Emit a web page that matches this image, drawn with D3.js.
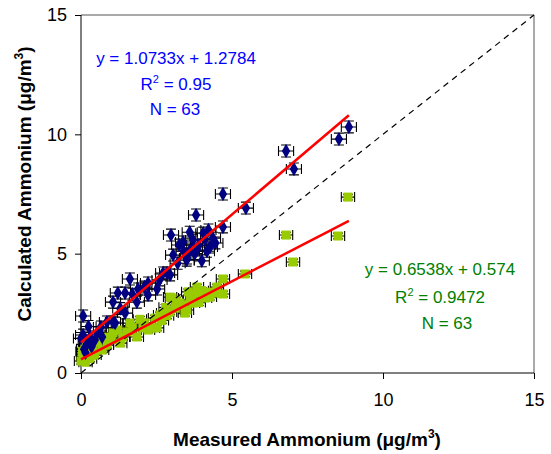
<!DOCTYPE html>
<html><head><meta charset="utf-8">
<script src="https://cdn.jsdelivr.net/npm/d3@7"></script>
<style>body{margin:0;background:#fff;}svg{display:block;font-family:"Liberation Sans",Arial,sans-serif;}</style>
</head><body><svg id="c" width="551" height="454"></svg>
<script>
// Blue series (calculated, measured) – diamonds
const blueX = [8.87,8.54,6.79,7.05,4.70,5.46,4.70,3.81,2.98,3.38,3.25,3.71,4.05,4.22,4.37,4.27,4.17,3.84,3.51,3.05,2.72,2.95,3.77,3.61,1.62,1.06,1.22,1.46,1.89,2.22,2.52,2.22,1.85,1.46,0.86,1.06,0.07,0.07,0.30,0.70,0.20,2.85,3.50,4.00,4.45,0.66,1.13,0.46,0.00,0.10,0.35,3.40,3.90,2.60,1.70,0.15,3.60,4.10,3.20,2.10,1.30,0.55,0.25];
const blueY = [10.31,9.80,9.30,8.55,7.50,6.91,6.12,6.62,5.78,5.49,5.36,5.57,5.86,5.99,5.65,5.28,5.10,5.15,4.82,4.94,4.19,4.11,5.00,5.15,3.94,2.97,3.35,3.35,3.52,3.77,3.52,3.27,2.97,2.51,2.14,2.14,2.39,1.59,1.51,1.51,1.21,4.19,4.73,4.70,5.45,1.93,2.09,1.38,1.45,1.00,1.10,5.10,5.35,3.90,3.30,0.85,5.90,5.60,4.60,3.60,2.70,1.70,1.95];
// Green series – squares
const greenX = [8.84,8.51,6.79,7.02,5.43,4.70,4.70,3.84,3.01,3.68,3.94,4.27,4.44,3.71,3.51,3.34,3.11,2.95,2.72,2.62,2.38,3.61,4.11,3.44,2.95,3.28,2.68,2.52,2.22,1.62,1.22,1.06,1.39,0.86,0.70,0.23,0.07,0.13,0.40,1.85,2.05,1.52,3.90,4.27,0.00,0.05,0.30,0.55,1.00,1.70,2.10,2.45,2.85,3.15,4.00,0.15,0.90,1.30,2.80,3.55,0.45,1.95,4.50];
const greenY = [7.37,5.74,5.78,4.65,4.15,3.94,3.31,3.60,3.14,3.27,3.35,3.39,3.35,2.93,2.64,2.85,2.72,2.56,2.51,2.43,1.89,3.06,3.14,2.51,3.18,2.93,2.20,1.89,1.80,2.09,1.80,1.68,1.51,1.17,0.96,0.84,0.67,1.17,1.05,1.51,1.89,1.72,2.95,3.18,0.50,0.90,0.60,1.30,1.40,1.90,2.10,2.30,2.40,3.05,3.45,0.45,1.50,1.25,2.75,3.40,0.75,2.25,3.60];
const blueErrX = 0.25, blueErrY = 0.25;
const greenErrX = 0.22, greenErrY = 0.12;
const blueFit = [1.0733, 1.2784], greenFit = [0.6538, 0.574];
const fitRange = [0, 8.87];
const blueText = ["y = 1.0733x + 1.2784", "0.95", "63"];
const greenText = ["y = 0.6538x + 0.574", "0.9472", "63"];
const ticks = [0, 5, 10, 15];

const svg = d3.select("#c");
const x = d3.scaleLinear().domain([0, 15]).range([81, 534]);
const y = d3.scaleLinear().domain([0, 15]).range([373, 15]);

// frame (top/right)
svg.append("path").attr("d", `M${x(0)},${y(15)}H${x(15)}V${y(0)}`).attr("fill","none").attr("stroke","#555").attr("stroke-width",1);

const xAxis = svg.append("g").attr("transform", `translate(0,${y(0)})`)
  .call(d3.axisBottom(x).tickValues(ticks).tickSize(6).tickPadding(14));
const yAxis = svg.append("g").attr("transform", `translate(${x(0)},0)`)
  .call(d3.axisLeft(y).tickValues(ticks).tickSize(6).tickPadding(8));
[xAxis, yAxis].forEach(g => {
  g.selectAll("path,line").attr("stroke", "#000");
  g.selectAll("text").attr("font-size", 18).attr("fill", "#000").attr("font-family", '"Liberation Sans",Arial,sans-serif');
});
xAxis.select(".domain").attr("d", `M${x(0)},0H${x(15)}`);
yAxis.select(".domain").attr("d", `M0,${y(0)}V${y(15)}`);

function errBars(xs, ys, ex, ey) {
  const g = svg.append("g").attr("stroke", "#000").attr("stroke-width", 1.1).attr("fill", "none");
  xs.forEach((xv, i) => {
    const yv = ys[i];
    const cx = x(xv), cy = y(yv);
    const x0 = x(xv - ex), x1 = x(xv + ex), y0 = y(yv - ey), y1 = y(yv + ey);
    const capH = 5, capW = 5;
    g.append("path").attr("d",
      `M${x0},${cy}H${x1}M${x0},${cy-capH}V${cy+capH}M${x1},${cy-capH}V${cy+capH}` +
      `M${cx},${y0}V${y1}M${cx-capW},${y0}H${cx+capW}M${cx-capW},${y1}H${cx+capW}`);
  });
}
errBars(greenX, greenY, greenErrX, greenErrY);
errBars(blueX, blueY, blueErrX, blueErrY);

svg.append("g").selectAll("rect").data(greenX).join("rect")
  .attr("x", (d,i) => x(d) - 4.5).attr("y", (d,i) => y(greenY[i]) - 4.5)
  .attr("width", 9).attr("height", 9).attr("fill", "#99CC00");

const diamond = d3.symbol().type(d3.symbolDiamond).size(60);
svg.append("g").selectAll("path").data(blueX).join("path")
  .attr("d", diamond).attr("transform", (d,i) => `translate(${x(d)},${y(blueY[i])})`)
  .attr("fill", "#000080");

// 1:1 line
svg.append("line").attr("x1", x(0)).attr("y1", y(0)).attr("x2", x(15)).attr("y2", y(15))
  .attr("stroke", "#000").attr("stroke-width", 1.2).attr("stroke-dasharray", "6,5");

// fit lines
[blueFit, greenFit].forEach(f => {
  svg.append("line").attr("x1", x(fitRange[0])).attr("y1", y(f[0]*fitRange[0]+f[1]))
    .attr("x2", x(fitRange[1])).attr("y2", y(f[0]*fitRange[1]+f[1]))
    .attr("stroke", "#FF0000").attr("stroke-width", 2.5);
});

function eqBlock(lines, cx, ys, color, nx) {
  const g = svg.append("g").attr("fill", color).attr("font-size", 17).attr("text-anchor", "middle");
  g.append("text").attr("x", cx).attr("y", ys[0]).text(lines[0]);
  const t = g.append("text").attr("x", cx).attr("y", ys[1]);
  t.append("tspan").text("R");
  t.append("tspan").attr("font-size", 11).attr("dy", -7).text("2");
  t.append("tspan").attr("dy", 7).text(" = " + lines[1]);
  g.append("text").attr("x", nx).attr("y", ys[2]).text("N = " + lines[2]);
}
eqBlock(blueText, 176, [64, 90, 115], "#0000FF", 175);
eqBlock(greenText, 440, [275, 303, 329], "#008000", 447);

// axis titles
const xt = svg.append("text").attr("x", 307).attr("y", 446).attr("text-anchor", "middle")
  .attr("font-size", 19).attr("font-weight", "bold").attr("fill", "#000");
xt.append("tspan").text("Measured Ammonium (μg/m");
xt.append("tspan").attr("font-size", 12).attr("dy", -8).text("3");
xt.append("tspan").attr("dy", 8).text(")");

const yt = svg.append("text").attr("transform", "translate(31,184) rotate(-90)").attr("text-anchor", "middle")
  .attr("font-size", 19).attr("font-weight", "bold").attr("fill", "#000");
yt.append("tspan").text("Calculated Ammonium (μg/m");
yt.append("tspan").attr("font-size", 12).attr("dy", -8).text("3");
yt.append("tspan").attr("dy", 8).text(")");
</script></body></html>
